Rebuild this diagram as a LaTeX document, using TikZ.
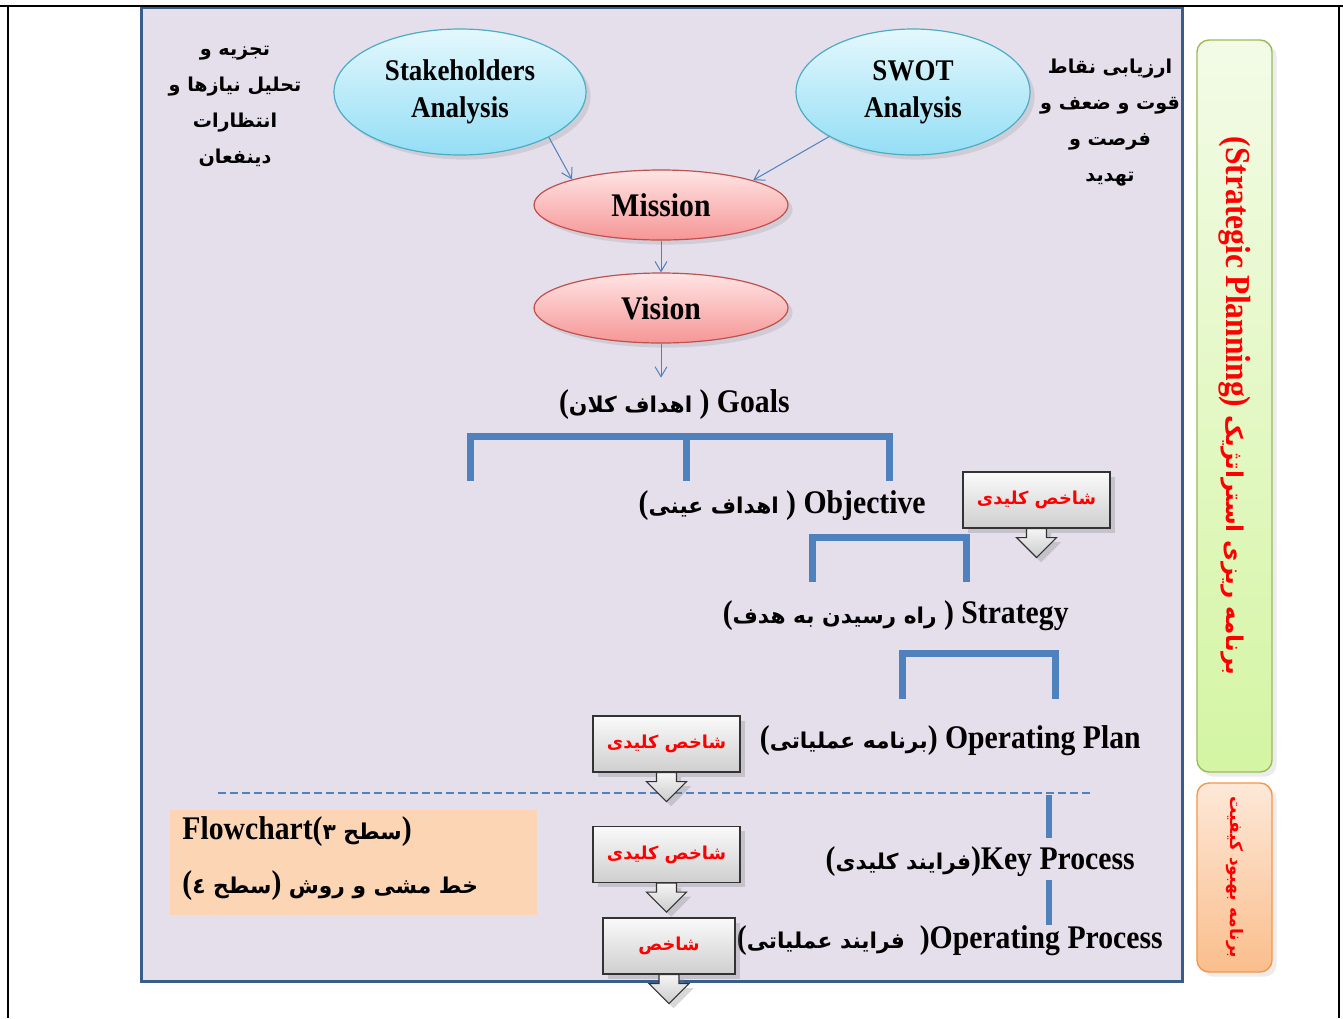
\documentclass[tikz,border=0pt]{standalone}
\usepackage{fontspec}
\setmainfont{Liberation Serif}[FakeStretch=0.9]
\newfontfamily\persian[Script=Arabic,Scale=0.66]{DejaVu Sans}
\TeXXeTstate=1
\usetikzlibrary{shapes,arrows.meta,shadows}
\definecolor{panel_bg}{RGB}{229,223,236}
\definecolor{panel_ln}{RGB}{56,93,138}
\definecolor{sky_top}{RGB}{228,248,253}
\definecolor{sky_bot}{RGB}{148,222,245}
\definecolor{sky_ln}{RGB}{75,172,198}
\definecolor{rose_top}{RGB}{255,228,228}
\definecolor{rose_bot}{RGB}{246,150,150}
\definecolor{rose_ln}{RGB}{192,80,77}
\definecolor{link_bl}{RGB}{79,129,189}
\definecolor{lime_top}{RGB}{243,251,231}
\definecolor{lime_bot}{RGB}{212,245,163}
\definecolor{lime_ln}{RGB}{155,187,89}
\definecolor{peach_top}{RGB}{253,232,216}
\definecolor{peach_bot}{RGB}{250,190,140}
\definecolor{peach_ln}{RGB}{247,150,70}
\definecolor{note_bg}{RGB}{252,213,181}
\definecolor{kpi_red}{RGB}{255,0,0}
\newcommand{\fa}[1]{{\persian\beginR #1\endR}}
\newcommand{\kpiarrow}[1]{\draw [style=kbar] ([xshift=-5pt]#1.south) -- ++(0,9) -- ++(-10,0) -- ++(20,20) -- ++(20,-20) -- ++(-10,0) -- ++(0,-9) -- cycle;}
\tikzstyle{bn}=[ellipse,top color=sky_top,bottom color=sky_bot,draw=sky_ln,
  line width=0.6pt,minimum height=63pt,align=center,
  font=\fontsize{15}{18.5}\selectfont\bfseries,drop shadow={opacity=0.2}]
\tikzstyle{rn}=[ellipse,top color=rose_top,bottom color=rose_bot,draw=rose_ln,
  line width=0.6pt,minimum width=127pt,minimum height=35pt,
  font=\fontsize{16.5}{19}\selectfont\bfseries,drop shadow={opacity=0.2}]
\tikzstyle{lbl}=[inner sep=1pt,font=\fontsize{16.5}{19}\selectfont\bfseries]
\tikzstyle{kb}=[rectangle,top color=gray!4,bottom color=gray!38,draw=black!80,
  line width=0.6pt,minimum width=73.5pt,minimum height=28pt,text=kpi_red,
  font=\fontsize{13.5}{16}\selectfont\bfseries,drop shadow={opacity=0.3}]
\tikzstyle{kbar}=[top color=gray!8,bottom color=gray!40,draw=black!80,
  line width=0.6pt,drop shadow={opacity=0.3}]
\tikzstyle{lnk}=[draw=link_bl,line width=0.5pt,-{Straight Barb[length=5pt,width=6pt]}]
\tikzstyle{brk}=[draw=link_bl,line width=3.5pt]
\tikzstyle{fatxt}=[align=center,font=\fontsize{14.5}{18}\selectfont\bfseries]
\tikzstyle{side}=[rectangle,rounded corners=6pt,line width=0.7pt,minimum width=37.5pt,
  drop shadow={opacity=0.15}]

\begin{document}
\begin{tikzpicture}[x=0.5pt,y=-0.5pt]
    \useasboundingbox (0,0) rectangle (1343,1018);
    \fill [white] (0,0) rectangle (1343,1018);
    \draw [draw=panel_ln,fill=panel_bg,line width=1.5pt] (141,7) rectangle (1182,981);
    \draw [line width=1pt] (0,6) -- (1343,6) (8,6) -- (8,1018) (1339,6) -- (1339,1018);

    \node [style=fatxt] (needs) at (235,106) {\fa{تجزیه و}\\\fa{تحلیل نیازها و}\\\fa{انتظارات}\\\fa{دینفعان}};
    \node [style=fatxt] (swotfa) at (1110,123) {\fa{ارزیابی نقاط}\\\fa{قوت و ضعف و}\\\fa{فرصت و}\\\fa{تهدید}};
    \node [style=bn,minimum width=126pt] (stake) at (460,92) {Stakeholders\\Analysis};
    \node [style=bn,minimum width=117pt] (swot) at (913,92) {SWOT\\Analysis};
    \node [style=rn] (mission) at (661,205) {Mission};
    \node [style=rn] (vision) at (661,308) {Vision};
    \node [style=lbl,anchor=east] (goals) at (792,405) {(\fa{اهداف کلان} ) Goals};
    \node [style=lbl,anchor=east] (objective) at (928,506) {(\fa{اهداف عینی} ) Objective};
    \node [style=lbl,anchor=east] (strategy) at (1071,616) {(\fa{راه رسیدن به هدف} ) Strategy};
    \node [style=lbl,anchor=east] (opplan) at (1143,741) {(\fa{برنامه عملیاتی}) Operating Plan};
    \node [style=lbl,anchor=east] (keyproc) at (1137,862) {(\fa{فرایند کلیدی})Key Process};
    \node [style=lbl,anchor=east] (opproc) at (1165,941) {(\fa{فرایند عملیاتی}\ \ )Operating Process};

    \draw [style=lnk] (stake.-27) to (mission.164);
    \draw [style=lnk] (swot.208) to (mission.15);
    \draw [style=lnk] (mission) to (vision);
    \draw [style=lnk,shorten >=5pt] (vision) to (vision |- goals.north);

    \draw [style=brk] (470,481) -- (470,436) -- (889,436) -- (889,481);
    \draw [style=brk] (686,436) -- (686,481);
    \draw [style=brk] (812,582) -- (812,537) -- (966,537) -- (966,582);
    \draw [style=brk] (902,699) -- (902,653) -- (1055,653) -- (1055,699);
    \draw [draw=link_bl,line width=0.6pt,dash pattern=on 4pt off 2pt] (218,793) -- (1093,793);
    \draw [draw=link_bl,line width=3pt] (1049,795) -- (1049,838) (1049,880) -- (1049,925);

    \node [style=kb] (kpi1) at (1036.5,500) {\fa{شاخص کلیدی}};
    \node [style=kb] (kpi2) at (666.5,744) {\fa{شاخص کلیدی}};
    \node [style=kb] (kpi3) at (666.5,854.5) {\fa{شاخص کلیدی}};
    \node [style=kb,minimum width=66pt] (kpi4) at (669,946) {\fa{شاخص}};
    \kpiarrow{kpi1}
    \kpiarrow{kpi2}
    \kpiarrow{kpi3}
    \kpiarrow{kpi4}

    \node [fill=note_bg,minimum width=183.5pt,minimum height=52.5pt] (levels) at (353.5,862.5) {};
    \node [style=lbl,anchor=west] (lvl3) at (180,832) {Flowchart(\fa{سطح ۳})};
    \node [style=lbl,anchor=west] (lvl4) at (180,886) {(\fa{سطح ٤}) \fa{خط مشی و روش}};

    \node [style=side,top color=lime_top,bottom color=lime_bot,draw=lime_ln,minimum height=366pt] (spbox) at (1234.5,406) {};
    \node [rotate=-90,text=kpi_red,font=\fontsize{17.5}{19}\selectfont\bfseries] (sptext) at (spbox) {(Strategic Planning) \fa{برنامه ریزی استراتژیک}};
    \node [style=side,top color=peach_top,bottom color=peach_bot,draw=peach_ln,minimum height=94.5pt] (qibox) at (1234.5,877.5) {};
    \node [rotate=-90,text=kpi_red,font=\fontsize{13}{15}\selectfont\bfseries] (qitext) at (qibox) {\fa{برنامه بهبود کیفیت}};
\end{tikzpicture}
\end{document}
